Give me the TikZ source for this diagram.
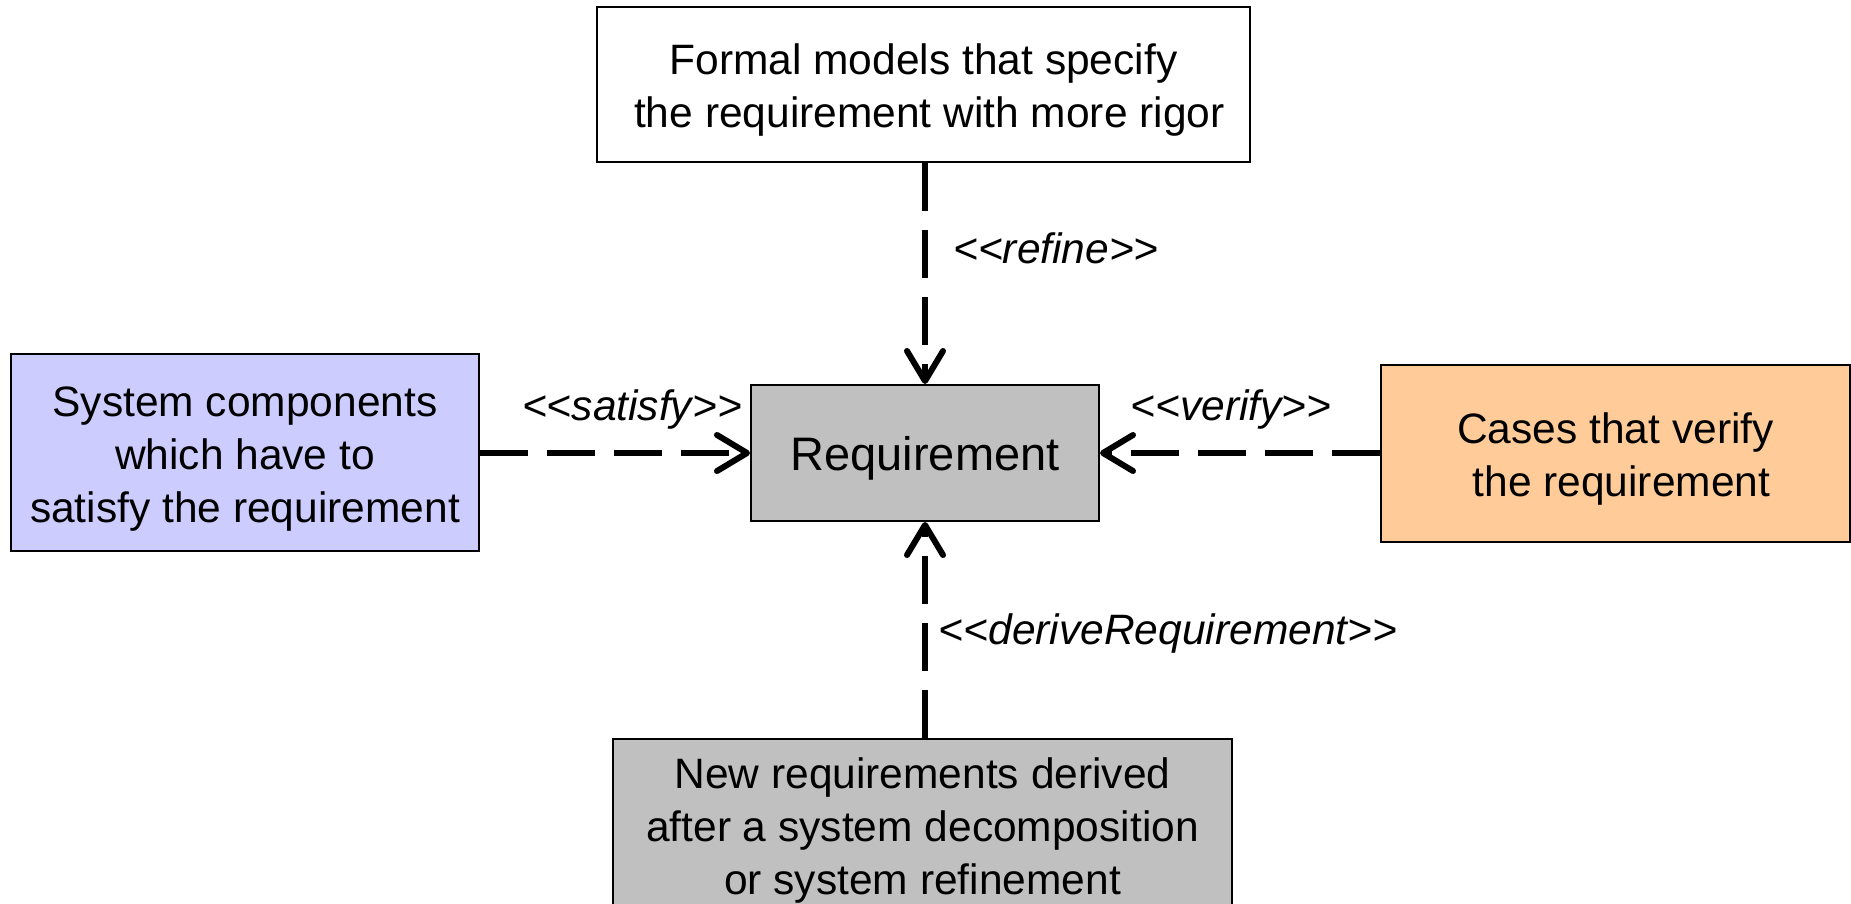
\documentclass[tikz,border=0pt]{standalone}
\usepackage{fontspec}
\setmainfont{Liberation Sans}
\usetikzlibrary{arrows.meta}
\definecolor{reqgray}{HTML}{C0C0C0}
\definecolor{satblue}{HTML}{CCCCFF}
\definecolor{verorange}{HTML}{FFCC99}
\newcommand{\btext}[1]{\raisebox{-6pt}[\height][\depth]{\begin{tabular}{@{}c@{}}#1\end{tabular}}}
\tikzset{
  box/.style={draw=black, line width=2pt, inner sep=0pt,
    font=\fontsize{42.5}{53}\selectfont},
  dep/.style={line width=6pt, dash pattern=on 48pt off 19pt,
    -{Straight Barb[length=30pt,width=36pt,round]}},
  lbl/.style={font=\fontsize{42.5}{51}\selectfont\itshape, inner sep=0pt}
}
\begin{document}
\begin{tikzpicture}[x=1pt,y=-1pt]
\useasboundingbox[fill=white] (0,0) rectangle (1851,904);
\node[box, fill=white, minimum width=653pt, minimum height=155pt] (top) at (923.5,84.5)
  {\btext{Formal models that specify\\~the requirement with more rigor}};
\node[box, fill=satblue, minimum width=468pt, minimum height=197pt] (left) at (245,452.5)
  {\btext{System components\\which have to\\satisfy the requirement}};
\node[box, fill=reqgray, minimum width=348pt, minimum height=136pt,
  font=\fontsize{47}{56}\selectfont] (req) at (925,453) {\btext{Requirement}};
\node[box, fill=verorange, minimum width=469pt, minimum height=177pt] (right) at (1615.5,453.5)
  {\btext{Cases that verify\\~the requirement}};
\node[box, fill=reqgray, minimum width=619pt, minimum height=171pt] (bot) at (922.5,824.5)
  {\btext{New requirements derived\\after a system decomposition\\or system refinement}};
\draw[dep] (req.north |- top.south) -- (req.north);
\draw[dep] (left.east |- req.west) -- (req.west);
\draw[dep] (right.west |- req.east) -- (req.east);
\draw[dep] (req.south |- bot.north) -- (req.south);
\node[lbl] (lref) at (1056,248) {<{}<refine>{}>};
\node[lbl] (lsat) at (632,410) {<{}<satisfy>{}>};
\node[lbl] (lver) at (1231,410) {<{}<verify>{}>};
\node[lbl] (lder) at (1168,634) {<{}<deriveRequirement>{}>};
\end{tikzpicture}
\end{document}
